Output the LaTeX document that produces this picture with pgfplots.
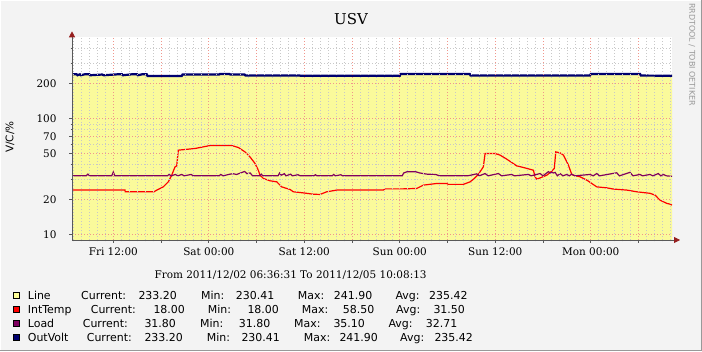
\documentclass[border=0pt]{standalone}
\usepackage{pgfplots}
\pgfplotsset{compat=1.18}
\usepackage{pgfplotstable}
\usepackage{fontspec}
\setmainfont{DejaVu Serif}
\newfontfamily\sansf{DejaVu Sans}
\usetikzlibrary{arrows.meta}
\definecolor{canvas}{RGB}{243,243,243}
\definecolor{lineyellow}{RGB}{250,250,155}
\definecolor{legyellow}{RGB}{255,255,153}
\definecolor{intred}{RGB}{255,0,0}
\definecolor{loadpurple}{RGB}{128,0,96}
\definecolor{voltblue}{RGB}{0,0,110}
\definecolor{mgrid}{RGB}{240,150,140}
\definecolor{sgrid}{RGB}{200,200,200}
\definecolor{arrowred}{RGB}{150,30,30}

% hours since 2011/12/02 00:00
\pgfplotstableread{
h v
6.81 240.0
7.40 240.0
7.50 235.7
7.80 240.0
7.90 235.7
8.40 240.0
9.00 240.0
9.10 235.7
10.60 239.0
10.80 235.7
12.50 240.0
13.10 240.0
13.20 235.7
14.30 240.0
15.00 240.0
15.10 235.7
15.60 240.0
16.20 240.0
16.30 232.5
20.60 232.5
20.70 238.9
25.30 238.9
25.40 241.9
26.60 241.9
26.70 238.9
28.50 238.9
28.60 234.7
35.40 234.7
35.50 233.4
48.00 233.4
48.10 241.3
56.80 241.3
56.90 234.3
71.90 234.3
72.00 241.3
78.20 241.3
78.30 234.3
82.21 233.2
}\voltdata

\pgfplotstableread{
h v
6.81 24.2
13.47 24.2
13.50 23.4
17.12 23.4
17.46 24.2
17.87 25.0
18.28 25.8
18.91 28.5
19.34 32.5
19.76 38.4
19.97 39.1
20.17 53.4
21.01 54.1
22.27 55.2
22.90 56.3
24.15 58.5
26.88 58.5
27.71 56.3
28.55 51.6
29.18 46.7
29.81 41.0
30.22 35.9
30.44 32.5
30.85 30.5
31.69 29.1
32.54 28.5
33.16 25.8
34.21 24.5
34.62 23.4
35.88 22.9
37.14 22.3
37.98 22.2
38.82 23.4
40.08 24.2
45.93 24.2
46.15 24.8
48.45 24.8
50.13 25.0
50.96 26.7
52.65 27.6
53.90 27.6
54.10 27.1
55.99 27.1
56.83 28.5
57.25 30.0
57.87 33.0
58.50 38.4
58.72 50.0
59.97 50.0
60.60 48.4
61.44 44.7
62.70 39.1
63.53 37.9
64.79 35.9
65.00 31.5
65.21 30.1
65.63 30.8
66.47 32.5
67.10 35.2
67.42 37.2
67.60 51.6
68.14 50.6
68.56 48.4
69.19 39.7
69.61 33.0
69.81 32.5
70.66 31.5
71.50 29.5
72.75 25.8
74.01 25.3
74.84 24.7
76.53 24.2
77.78 23.4
79.45 22.7
80.08 21.9
80.71 19.8
81.13 19.2
81.55 18.6
81.97 18.3
82.21 18.0
}\tempdata

\pgfplotstableread{
h v
6.81 32.1
8.60 32.1
8.80 33.2
9.00 32.1
11.80 32.1
12.00 34.6
12.20 32.1
18.80 32.1
19.00 33.0
19.30 32.1
19.80 33.0
20.10 32.1
20.60 33.0
20.90 32.1
21.80 33.0
22.00 32.1
25.30 32.1
25.50 33.0
25.80 32.1
26.50 33.0
27.00 33.5
27.50 33.0
28.00 34.0
28.50 35.0
28.80 33.5
29.20 34.0
29.50 32.1
30.40 32.1
30.60 33.2
30.80 32.1
32.70 32.1
32.90 34.0
33.10 32.5
33.50 33.5
33.70 32.1
34.30 33.2
34.50 32.1
35.20 32.8
35.50 32.1
37.20 32.1
37.40 32.8
37.60 32.1
39.50 32.1
39.70 33.0
39.90 32.1
40.60 32.8
40.80 32.1
48.30 32.1
48.50 34.0
48.90 34.8
50.00 34.8
50.50 34.0
51.40 33.2
52.50 33.0
53.00 32.1
56.50 32.1
57.00 32.6
57.67 33.4
58.00 32.1
58.72 33.6
59.10 32.1
60.39 33.6
60.80 32.1
62.07 33.0
62.40 32.1
64.16 33.0
64.50 32.1
65.63 33.6
66.00 32.1
66.68 34.9
66.90 34.0
67.10 34.4
67.30 34.0
67.52 34.4
67.80 32.1
68.14 33.6
68.50 32.1
68.98 33.0
69.30 32.1
69.61 33.2
70.00 32.1
71.92 33.0
72.30 32.1
72.75 33.6
73.10 32.1
75.26 34.1
75.60 32.1
76.93 34.4
77.30 32.1
78.19 33.0
78.50 32.1
79.45 33.0
79.80 32.1
80.49 33.6
80.80 32.1
81.13 33.0
81.50 32.1
82.21 31.8
}\loaddata

\begin{document}
\begin{tikzpicture}[x=1bp,y=1bp]
\useasboundingbox (0,0) rectangle (702,351);
\fill[canvas] (0,0) rectangle (702,351);
\draw[white, line width=1bp] (0.5,0) -- (0.5,350.5) -- (702,350.5);
\draw[black!40, line width=1bp] (0,0.5) -- (701.5,0.5) -- (701.5,351);
\begin{axis}[
  at={(72bp,111bp)}, anchor=south west,
  scale only axis, width=600bp, height=202.7bp,
  xmin=6.81, xmax=82.21,
  ymode=log, ymin=9, ymax=500,
  axis background/.style={fill=white},
  xtick={12,18,...,78},
  xticklabels={Fri 12:00,,Sat 00:00,,Sat 12:00,,Sun 00:00,,Sun 12:00,,Mon 00:00,},
  minor xtick={7,8,...,82},
  ytick={10,20,50,70,100,200},
  yticklabels={10,20,50,70,100,200},
  minor ytick={30,40,60,80,90,300,400},
  grid=both,
  major grid style={draw=mgrid, dash pattern=on 1bp off 2bp, line width=0.6bp},
  minor grid style={draw=sgrid, dash pattern=on 1bp off 2bp, line width=0.6bp},
  axis on top,
  axis x line=bottom, axis y line=left,
  x axis line style={draw=black!65, line width=0.8bp, -{Triangle[length=6bp,width=6bp,color=arrowred]}, shorten >=-8bp},
  y axis line style={draw=black!65, line width=0.8bp, -{Triangle[length=6bp,width=6bp,color=arrowred]}, shorten >=-6bp},
  tick align=outside,
  major tick length=3bp, minor tick length=1.5bp,
  tick style={draw=black!65, line width=0.6bp},
  tick label style={font=\fontsize{10.5}{12}\selectfont},
  xticklabel style={yshift=-1bp},
  yticklabel style={xshift=-9bp},
]
\addplot[draw=none, fill=lineyellow] table[x=h,y=v]{\voltdata} \closedcycle;
\addplot[intred, line width=1.2bp] table[x=h,y=v]{\tempdata};
\addplot[loadpurple, line width=1.2bp] table[x=h,y=v]{\loaddata};
\addplot[voltblue, line width=2.2bp] table[x=h,y=v]{\voltdata};
\end{axis}

\node[font=\fontsize{15}{17}\selectfont] at (351,332) {USV};
\node[rotate=90, font=\sansf\fontsize{10.5}{12}\selectfont] at (10,214) {V/C/\%};
\node[font=\fontsize{10.5}{12}\selectfont] at (290.6,76) {From 2011/12/02 06:36:31 To 2011/12/05 10:08:13};
\node[rotate=-90, anchor=west, inner sep=0pt, text=black!40, font=\sansf\fontsize{8}{9}\selectfont] at (692,348) {RRDTOOL / TOBI OETIKER};

\begin{scope}[font=\sansf\fontsize{11}{12}\selectfont, every node/.style={anchor=base west, inner sep=0pt}]
\filldraw[fill=legyellow, draw=black, line width=0.5bp] (13.3,52.7) rectangle (19.3,58.7);
\node at (27.7,52) {Line};
\node at (81,52) {Current:};
\node at (138.3,52) {233.20};
\node at (201,52) {Min:};
\node at (235.7,52) {230.41};
\node at (297.7,52) {Max:};
\node at (333.7,52) {241.90};
\node at (395.3,52) {Avg:};
\node at (429,52) {235.42};

\filldraw[fill=intred, draw=black, line width=0.5bp] (13.3,38.4) rectangle (19.3,44.4);
\node at (27.7,37.7) {IntTemp};
\node at (90.7,37.7) {Current:};
\node at (153.3,37.7) {18.00};
\node at (207.7,37.7) {Min:};
\node at (247.3,37.7) {18.00};
\node at (301.7,37.7) {Max:};
\node at (342.7,37.7) {58.50};
\node at (396,37.7) {Avg:};
\node at (433.3,37.7) {31.50};

\filldraw[fill=loadpurple, draw=black, line width=0.5bp] (13.3,24.4) rectangle (19.3,30.4);
\node at (27.7,23.7) {Load};
\node at (82.7,23.7) {Current:};
\node at (144.3,23.7) {31.80};
\node at (200,23.7) {Min:};
\node at (238.7,23.7) {31.80};
\node at (294,23.7) {Max:};
\node at (333.3,23.7) {35.10};
\node at (388.3,23.7) {Avg:};
\node at (425.7,23.7) {32.71};

\filldraw[fill=voltblue, draw=black, line width=0.5bp] (13.3,10.4) rectangle (19.3,16.4);
\node at (27.7,9.7) {OutVolt};
\node at (86.7,9.7) {Current:};
\node at (144.3,9.7) {233.20};
\node at (206.7,9.7) {Min:};
\node at (241.3,9.7) {230.41};
\node at (303.7,9.7) {Max:};
\node at (339.3,9.7) {241.90};
\node at (400,9.7) {Avg:};
\node at (434.3,9.7) {235.42};
\end{scope}
\end{tikzpicture}
\end{document}
